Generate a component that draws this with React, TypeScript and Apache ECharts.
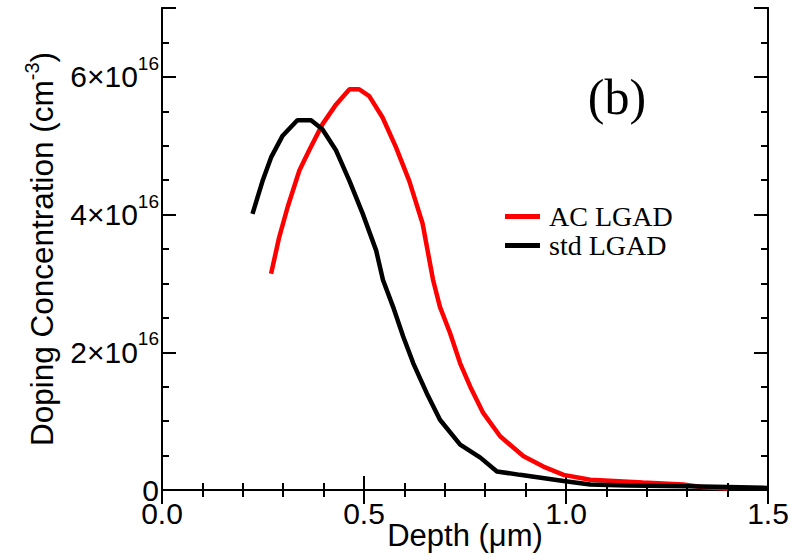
import React, { useEffect, useRef } from "react";
import * as echarts from "echarts";

// Depth in µm, doping concentration in units of 1e16 cm^-3
const acDepth = [0.27, 0.29, 0.311, 0.34, 0.364, 0.397, 0.431, 0.464, 0.488, 0.513, 0.546, 0.579, 0.612, 0.645, 0.671, 0.688, 0.713, 0.738, 0.763, 0.795, 0.837, 0.895, 0.944, 0.994, 1.06, 1.19, 1.29, 1.34, 1.4];
const acConc = [3.14, 3.67, 4.11, 4.64, 4.93, 5.31, 5.6, 5.82, 5.82, 5.72, 5.41, 4.98, 4.49, 3.87, 3.05, 2.66, 2.28, 1.84, 1.5, 1.12, 0.78, 0.49, 0.34, 0.22, 0.15, 0.11, 0.08, 0.04, 0.02];

const stdDepth = [0.224, 0.249, 0.27, 0.298, 0.335, 0.369, 0.397, 0.431, 0.464, 0.497, 0.53, 0.547, 0.572, 0.597, 0.622, 0.655, 0.688, 0.738, 0.788, 0.829, 0.886, 0.994, 1.06, 1.15, 1.3, 1.4, 1.5];
const stdConc = [4.01, 4.49, 4.83, 5.14, 5.37, 5.37, 5.24, 4.93, 4.49, 4.01, 3.48, 3.05, 2.66, 2.23, 1.84, 1.41, 1.02, 0.66, 0.47, 0.27, 0.22, 0.13, 0.08, 0.065, 0.055, 0.045, 0.03];

const seriesNames = ["AC LGAD", "std LGAD"];
const panelLabel = "(b)";
const xName = "Depth (μm)";
const yName = "Doping Concentration (cm{s|-3})";

const SANS = "'Liberation Sans', Arial, Helvetica, sans-serif";
const SERIF = "'Liberation Serif', 'Times New Roman', serif";

export default function App() {
  const ref = useRef<HTMLDivElement>(null);
  useEffect(() => {
    document.body.style.margin = "0";
    if (!ref.current) return;
    const chart = echarts.init(ref.current, undefined, { renderer: "svg" });
    const black = "#000";
    const tickStyle = { color: black, width: 2 };
    const baseX = (pos: "bottom" | "top", labels: boolean) => ({
      type: "value",
      position: pos,
      min: 0,
      max: 1.5,
      interval: 0.5,
      axisLine: { show: true, lineStyle: { color: black, width: 2 } },
      axisTick: { show: true, inside: true, length: 14, lineStyle: tickStyle },
      minorTick: { show: true, splitNumber: 5, length: 7, lineStyle: tickStyle },
      splitLine: { show: false },
      minorSplitLine: { show: false },
      axisLabel: {
        show: labels,
        margin: 8,
        color: black,
        fontFamily: SANS,
        fontSize: 30,
        formatter: (v: number) => v.toFixed(1),
      },
    });
    const baseY = (pos: "left" | "right", interval: number, len: number, labels: boolean) => ({
      type: "value",
      position: pos,
      min: 0,
      max: 7,
      interval,
      axisLine: { show: true, lineStyle: { color: black, width: 2 } },
      axisTick: { show: true, inside: true, length: len, lineStyle: tickStyle },
      splitLine: { show: false },
      axisLabel: {
        show: labels,
        margin: 3,
        color: black,
        formatter: (v: number) => (v === 0 ? "{m|0}" : v >= 7 ? "" : `{m|${v}×10}{s|16}`),
        rich: {
          m: { fontFamily: SANS, fontSize: 30, lineHeight: 46, color: black },
          s: { fontFamily: SANS, fontSize: 19, lineHeight: 19, verticalAlign: "top", color: black },
        },
      },
    });
    const x0: any = baseX("bottom", true);
    x0.name = xName;
    x0.nameLocation = "middle";
    x0.nameGap = 30;
    x0.nameMoveOverlap = false;
    x0.nameTextStyle = { fontFamily: SANS, fontSize: 31, color: black };
    const y0: any = baseY("left", 2, 14, true);
    y0.name = yName;
    y0.nameLocation = "middle";
    y0.nameGap = 100;
    y0.nameRotate = 90;
    y0.nameMoveOverlap = false;
    y0.nameTextStyle = {
      fontFamily: SANS,
      fontSize: 31.5,
      lineHeight: 40,
      color: black,
      rich: {
        s: { fontFamily: SANS, fontSize: 20, lineHeight: 20, verticalAlign: "top", color: black },
      },
    };
    chart.setOption({
      animation: false,
      backgroundColor: "#fff",
      grid: { left: 162, right: 36, top: 8, bottom: 70, containLabel: false, outerBoundsMode: "none" },
      xAxis: [x0, baseX("top", false)],
      yAxis: [y0, baseY("left", 0.5, 7, false), baseY("right", 2, 14, false), baseY("right", 0.5, 7, false)],
      legend: {
        data: seriesNames,
        orient: "vertical",
        left: 500,
        top: 197,
        itemWidth: 35,
        itemHeight: 5,
        itemGap: 0,
        icon: "rect",
        textStyle: { fontFamily: SERIF, fontSize: 28, lineHeight: 29, color: black, padding: [0, 0, 0, 4] },
      },
      graphic: [
        {
          type: "text",
          x: 617,
          y: 97,
          style: { text: panelLabel, font: `50px ${SERIF}`, fill: black, align: "center", verticalAlign: "middle" },
        },
      ],
      series: [
        {
          name: seriesNames[0],
          type: "line",
          xAxisIndex: 0,
          yAxisIndex: 0,
          showSymbol: false,
          symbol: "none",
          data: acDepth.map((d, i) => [d, acConc[i]]),
          lineStyle: { color: "#ff0000", width: 4.5 },
          itemStyle: { color: "#ff0000" },
          z: 2,
        },
        {
          name: seriesNames[1],
          type: "line",
          xAxisIndex: 0,
          yAxisIndex: 0,
          showSymbol: false,
          symbol: "none",
          data: stdDepth.map((d, i) => [d, stdConc[i]]),
          lineStyle: { color: black, width: 4.5 },
          itemStyle: { color: black },
          z: 3,
        },
      ],
    });
    return () => chart.dispose();
  }, []);
  return <div ref={ref} style={{ width: 804, height: 560 }} />;
}
